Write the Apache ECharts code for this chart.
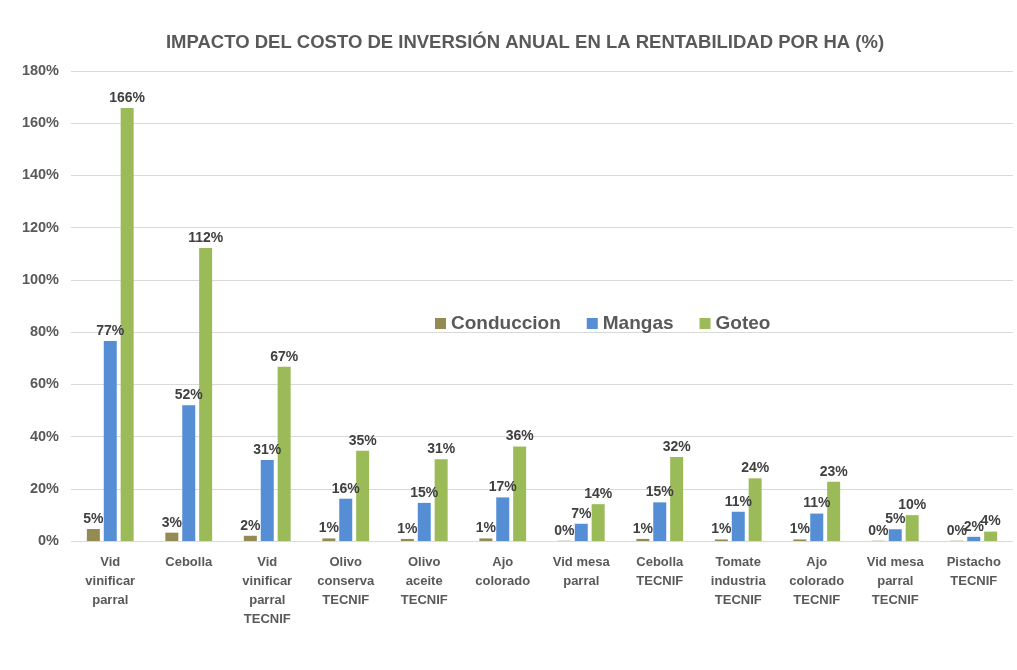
<!DOCTYPE html>
<html>
<head>
<meta charset="utf-8">
<script src="https://cdn.jsdelivr.net/npm/echarts@6/dist/echarts.min.js"></script>
<style>
  html, body { margin: 0; padding: 0; background: #fff; }
  #main { width: 1017px; height: 670px; }
</style>
</head>
<body>
<div id="main"></div>
<script>
var categories = [
  'Vid\nvinificar\nparral', 'Cebolla', 'Vid\nvinificar\nparral\nTECNIF',
  'Olivo\nconserva\nTECNIF', 'Olivo\naceite\nTECNIF', 'Ajo\ncolorado',
  'Vid mesa\nparral', 'Cebolla\nTECNIF', 'Tomate\nindustria\nTECNIF',
  'Ajo\ncolorado\nTECNIF', 'Vid mesa\nparral\nTECNIF', 'Pistacho\nTECNIF'
];
var conduccion = [4.6, 3.2, 2.0, 1.0, 0.8, 1.0, 0.1, 0.8, 0.6, 0.6, 0.1, 0.1];
var mangas = [76.6, 52.0, 31.0, 16.2, 14.6, 16.7, 6.6, 14.8, 11.2, 10.5, 4.5, 1.6];
var goteo = [165.8, 112.2, 66.7, 34.6, 31.3, 36.2, 14.1, 32.2, 24.0, 22.7, 9.9, 3.6];
var yTicks = [0, 20, 40, 60, 80, 100, 120, 140, 160, 180];

var txt = '#595959';
var labelStyle = {
  show: true,
  position: 'top',
  distance: 3,
  color: '#404040',
  fontWeight: 'bold',
  fontSize: 14,
  fontFamily: 'Liberation Sans',
  formatter: function (p) { return Math.round(p.value) + '%'; }
};

function makeSeries(name, data, color) {
  return {
    name: name,
    type: 'bar',
    data: data,
    barWidth: 13,
    barGap: '30%',
    itemStyle: { color: color },
    label: labelStyle
  };
}

var option = {
  animation: false,
  title: {
    text: 'IMPACTO DEL COSTO DE INVERSIÓN ANUAL EN LA RENTABILIDAD POR HA (%)',
    left: 520,
    textAlign: 'center',
    top: 28,
    textStyle: { color: txt, fontSize: 18.5, fontWeight: 'bold', fontFamily: 'Liberation Sans' }
  },
  legend: {
    left: 430,
    top: 309,
    itemWidth: 11,
    itemHeight: 11,
    itemGap: 26,
    icon: 'rect',
    textStyle: { color: txt, fontSize: 19, fontWeight: 'bold', fontFamily: 'Liberation Sans' },
    data: ['Conduccion', 'Mangas', 'Goteo']
  },
  grid: { left: 71, right: 4, top: 71, bottom: 129 },
  xAxis: {
    type: 'category',
    data: categories,
    axisLine: { show: false },
    axisTick: { show: false },
    axisLabel: {
      interval: 0,
      margin: 12,
      color: txt,
      fontSize: 13,
      fontWeight: 'bold',
      lineHeight: 19,
      fontFamily: 'Liberation Sans'
    }
  },
  yAxis: {
    type: 'value',
    min: yTicks[0],
    max: yTicks[yTicks.length - 1],
    interval: 20,
    axisLabel: {
      color: txt,
      fontSize: 14.5,
      fontWeight: 'bold',
      margin: 12,
      fontFamily: 'Liberation Sans',
      formatter: '{value}%'
    },
    splitLine: { lineStyle: { color: '#d9d9d9' } }
  },
  series: [
    makeSeries('Conduccion', conduccion, '#948A54'),
    makeSeries('Mangas', mangas, '#558ED5'),
    makeSeries('Goteo', goteo, '#9BBB59')
  ]
};

var myChart = echarts.init(document.getElementById('main'));
myChart.setOption(option);
</script>
</body>
</html>
